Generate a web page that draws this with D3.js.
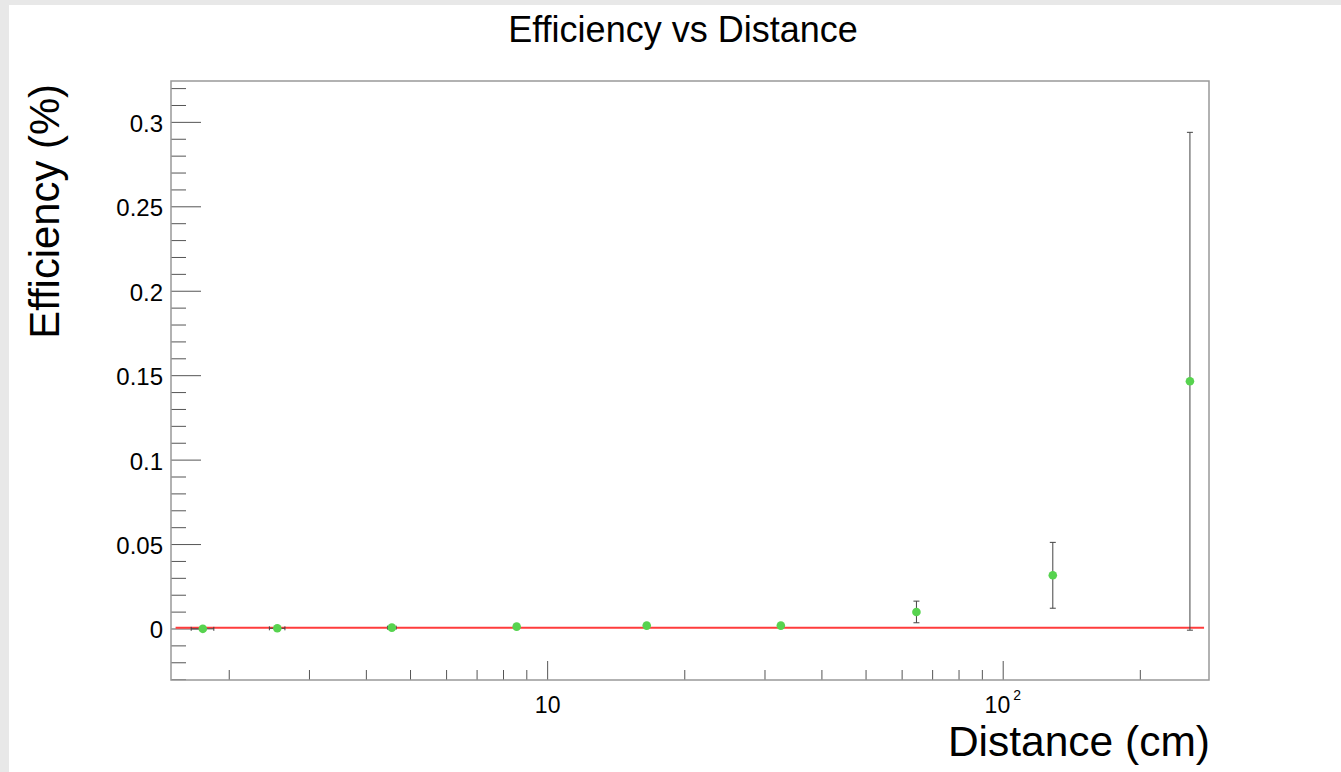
<!DOCTYPE html>
<html>
<head>
<meta charset="utf-8">
<script src="https://cdn.jsdelivr.net/npm/d3@7"></script>
<style>
  body { margin: 0; background: #e8e8e8; }
  svg { display: block; font-family: "Liberation Sans", Arial, sans-serif; }
</style>
</head>
<body>
<svg id="chart"></svg>
<script>
// data
const distance = [1.75, 2.55, 4.55, 8.55, 16.5, 32.5, 64.5, 128.5, 257];
const distErr = [0.1, 0.1, 0.1, 0.1, 0.1, 0.1, 0.1, 0.1, 0.1];
const efficiency = [0.0001, 0.0004, 0.0008, 0.0014, 0.002, 0.002, 0.0101, 0.0318, 0.1467];
const effErr = [0.0002, 0.0003, 0.0005, 0.0006, 0.0007, 0.0007, 0.0064, 0.0195, 0.1474];
const fitValue = 0.0007;           // pol0 fit
const fitRange = [1.525, 276];
const yTicks = [0, 0.05, 0.1, 0.15, 0.2, 0.25, 0.3];

const W = 1341, H = 772;
const margin = { top: 81, right: 132, bottom: 92, left: 171 };
const innerW = W - margin.left - margin.right;
const innerH = H - margin.top - margin.bottom;

const svg = d3.select("#chart").attr("width", W).attr("height", H);

// canvas: grey border, white pad
svg.append("rect").attr("width", W).attr("height", H).attr("fill", "#e8e8e8");
svg.append("rect").attr("x", 9).attr("y", 5).attr("width", W - 9).attr("height", H - 5).attr("fill", "#fff");

const x = d3.scaleLog().domain([1.49, 283]).range([0, innerW]);
const y = d3.scaleLinear().domain([-0.0302, 0.3245]).range([innerH, 0]);

const g = svg.append("g").attr("transform", `translate(${margin.left},${margin.top})`);

// y ticks (inside frame)
const yMinor = d3.range(-3, 33).map(i => i / 100);
g.selectAll(".ymin").data(yMinor).enter().append("line")
    .attr("x1", 0).attr("x2", d => (Math.round(d * 100) % 5 === 0) ? 30 : 15)
    .attr("y1", d => y(d)).attr("y2", d => y(d))
    .attr("stroke", "#555").attr("stroke-width", 1);

g.selectAll(".ylab").data(yTicks).enter().append("text")
    .attr("x", -8).attr("y", d => y(d) + 9.5)
    .attr("text-anchor", "end").attr("font-size", 24)
    .text(d => d3.format("~g")(d));

// x ticks (log)
const xMinor = [2, 3, 4, 5, 6, 7, 8, 9, 20, 30, 40, 50, 60, 70, 80, 90, 200];
g.selectAll(".xmin").data(xMinor).enter().append("line")
    .attr("x1", d => x(d)).attr("x2", d => x(d))
    .attr("y1", innerH).attr("y2", innerH - 10)
    .attr("stroke", "#555");
g.selectAll(".xmaj").data([10, 100]).enter().append("line")
    .attr("x1", d => x(d)).attr("x2", d => x(d))
    .attr("y1", innerH).attr("y2", innerH - 19)
    .attr("stroke", "#555");

g.append("text").attr("x", x(10)).attr("y", innerH + 33)
    .attr("text-anchor", "middle").attr("font-size", 23).text("10");
g.append("text").attr("x", x(100) + 7).attr("y", innerH + 33)
    .attr("text-anchor", "end").attr("font-size", 23).text("10");
g.append("text").attr("x", x(100) + 10).attr("y", innerH + 20)
    .attr("text-anchor", "start").attr("font-size", 14).text("2");

// frame
g.append("rect").attr("width", innerW).attr("height", innerH)
    .attr("fill", "none").attr("stroke", "#999").attr("stroke-width", 1.5);

// fit line
g.append("line")
    .attr("x1", x(fitRange[0])).attr("x2", x(fitRange[1]))
    .attr("y1", y(fitValue)).attr("y2", y(fitValue))
    .attr("stroke", "#ff3c3c").attr("stroke-width", 2);

// error bars
const pts = distance.map((d, i) => ({ x: d, ex: distErr[i], y: efficiency[i], ey: effErr[i] }));
const eb = g.selectAll(".eb").data(pts).enter().append("g").attr("stroke", "#444").attr("stroke-width", 1);
eb.append("line")
    .attr("x1", d => x(d.x)).attr("x2", d => x(d.x))
    .attr("y1", d => y(d.y - d.ey)).attr("y2", d => y(d.y + d.ey));
eb.append("line")
    .attr("x1", d => x(d.x) - 3).attr("x2", d => x(d.x) + 3)
    .attr("y1", d => y(d.y + d.ey)).attr("y2", d => y(d.y + d.ey));
eb.append("line")
    .attr("x1", d => x(d.x) - 3).attr("x2", d => x(d.x) + 3)
    .attr("y1", d => y(d.y - d.ey)).attr("y2", d => y(d.y - d.ey));
eb.append("line")
    .attr("x1", d => x(d.x - d.ex)).attr("x2", d => x(d.x + d.ex))
    .attr("y1", d => y(d.y)).attr("y2", d => y(d.y));
eb.append("line")
    .attr("x1", d => x(d.x - d.ex)).attr("x2", d => x(d.x - d.ex))
    .attr("y1", d => y(d.y) - 2).attr("y2", d => y(d.y) + 2);
eb.append("line")
    .attr("x1", d => x(d.x + d.ex)).attr("x2", d => x(d.x + d.ex))
    .attr("y1", d => y(d.y) - 2).attr("y2", d => y(d.y) + 2);

// markers
g.selectAll(".pt").data(pts).enter().append("circle")
    .attr("cx", d => x(d.x)).attr("cy", d => y(d.y)).attr("r", 4.3)
    .attr("fill", "#57d34f");

// titles
svg.append("text").attr("x", 683).attr("y", 42)
    .attr("text-anchor", "middle").attr("font-size", 36)
    .text("Efficiency vs Distance");

svg.append("text").attr("x", W - margin.right + 1).attr("y", 756)
    .attr("text-anchor", "end").attr("font-size", 42.5)
    .text("Distance (cm)");

svg.append("text")
    .attr("transform", `translate(59,${margin.top + 3}) rotate(-90)`)
    .attr("text-anchor", "end").attr("font-size", 41.8)
    .text("Efficiency (%)");
</script>
</body>
</html>
